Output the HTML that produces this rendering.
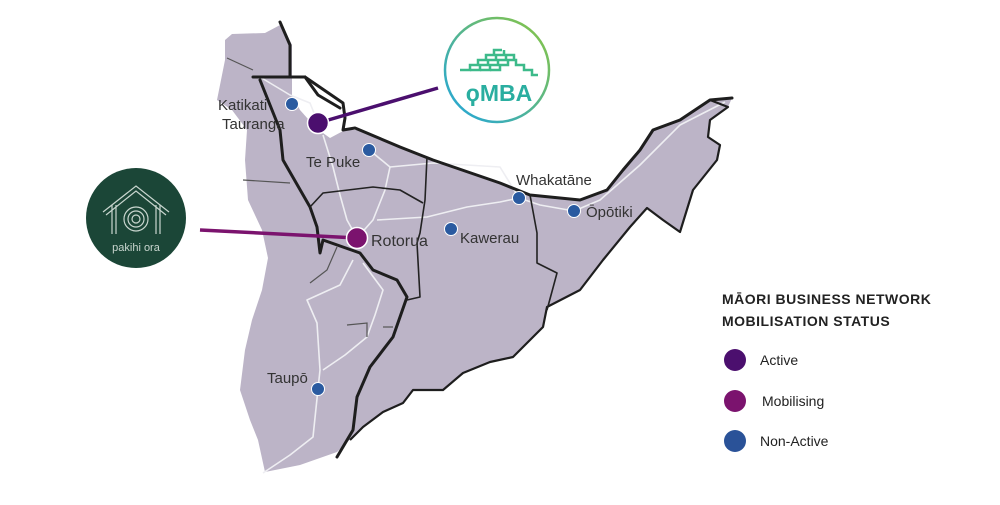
<!DOCTYPE html>
<html><head><meta charset="utf-8"><style>
body{margin:0;background:#fff;width:1000px;height:500px;overflow:hidden;font-family:"Liberation Sans",sans-serif}
</style></head><body>
<svg width="1000" height="500" viewBox="0 0 1000 500" xmlns="http://www.w3.org/2000/svg">
<path d="M225,40 L232,34 L265,33 L282,24 L292,45 L292,77 L300,78 L343,103 L345,130 L360,130 L400,147 L433,160 L500,183 L530,195 L580,200 L607,190 L623,170 L640,150 L653,130 L680,120 L710,100 L732,98 L728,107 L710,120 L708,137 L720,145 L717,160 L693,190 L680,232 L663,220 L647,208 L630,227 L603,260 L580,290 L547,307 L543,327 L530,340 L513,357 L490,362 L463,373 L443,390 L413,390 L403,403 L383,412 L363,427 L337,452 L300,465 L265,472 L258,440 L250,420 L240,390 L245,350 L252,320 L262,290 L268,258 L262,230 L248,200 L245,160 L247,130 L232,110 L217,100 L220,85 L225,60 Z" fill="#bcb4c7"/>
<!-- harbour -->
<path d="M292,77 L305,77 L325,90 L343,103 L345,130 L330,138 L316,128 L300,110 L292,95 Z" fill="#fff"/>
<g fill="none" stroke="#eeeef2" stroke-width="1.6" stroke-linejoin="round">
<path d="M260,77 L290,95 L310,103 L318,123"/>
<path d="M323,135 L333,167 L340,195 L347,220 L357,238"/>
<path d="M369,150 L373,153 L390,167 L433,163 L500,167 L519,198"/>
<path d="M390,167 L385,190 L373,220 L357,238"/>
<path d="M377,220 L427,217 L467,207 L500,202 L519,198 L540,205 L574,211"/>
<path d="M353,260 L340,285 L307,300 L317,323 L320,370 L318,389 L313,437 L290,455 L263,473"/>
<path d="M363,263 L383,290 L375,315 L367,337 L345,355 L323,370"/>
<path d="M574,211 L600,200 L640,165 L680,125 L725,102"/>
</g>
<g fill="none" stroke="#555" stroke-width="1.2">
<path d="M227,58 L253,70"/><path d="M243,180 L290,183"/>
<path d="M337,247 L327,270 L310,283"/><path d="M347,325 L367,323 L367,337"/><path d="M383,327 L393,327"/>
</g>
<g fill="none" stroke="#1e1e1e" stroke-width="3" stroke-linecap="round" stroke-linejoin="round">
<path d="M280,22 L290,45 L290,77"/>
<path d="M253,77 L292,77 L305,77 L343,103 L345,118 L343,130 L355,128 L400,147 L433,160 L500,183 L530,195 L580,200 L607,190 L623,170 L640,150 L653,130 L680,120 L710,100 L732,98"/>
<path d="M305,77 L318,95 L340,108"/>
<path d="M260,80 L280,130 L283,160 L310,207 L317,227 L320,253 L323,240 L360,253 L373,270 L397,280 L407,297 L393,337 L370,367 L357,397 L353,430 L337,457"/>
</g>
<path d="M710,100 L728,107 L710,120 L708,137 L720,145 L717,160 L693,190 L680,232 L663,220 L647,208 L630,227 L603,260 L580,290 L547,307 L543,327 L530,340 L513,357 L490,362 L463,373 L443,390 L413,390 L403,403 L383,412 L363,427 L350,440" fill="none" stroke="#1e1e1e" stroke-width="2.2" stroke-linejoin="round"/>
<g fill="none" stroke="#222" stroke-width="1.6" stroke-linejoin="round">
<path d="M310,207 L323,193 L373,187 L400,190 L423,203"/>
<path d="M427,157 L425,200 L420,233 L417,243 L420,297 L407,300"/>
<path d="M530,195 L537,233 L537,263 L557,273 L547,310"/>
</g>
<!-- connectors -->
<line x1="318" y1="123" x2="438" y2="88" stroke="#4b0f6e" stroke-width="3.5"/>
<line x1="200" y1="230" x2="357" y2="238" stroke="#7b136e" stroke-width="3.5"/>
<!-- dots -->
<g fill="#2a5aa0" stroke="#fff" stroke-width="1">
<circle cx="292" cy="104" r="6.5"/><circle cx="369" cy="150" r="6.5"/><circle cx="519" cy="198" r="6.5"/>
<circle cx="574" cy="211" r="6.5"/><circle cx="451" cy="229" r="6.5"/><circle cx="318" cy="389" r="6.5"/>
</g>
<circle cx="318" cy="123" r="10.5" fill="#4b0f6e" stroke="#fff" stroke-width="1.5"/>
<circle cx="357" cy="238" r="10.5" fill="#7b136e" stroke="#fff" stroke-width="1.5"/>
<g font-size="15" fill="#333">
<text x="218" y="110">Katikati</text><text x="222" y="129">Tauranga</text>
<text x="306" y="167">Te Puke</text><text x="516" y="185">Whakatāne</text>
<text x="586" y="217">Ōpōtiki</text><text x="460" y="243">Kawerau</text>
<text x="371" y="246" font-size="16">Rotorua</text><text x="267" y="383">Taupō</text>
</g>
<!-- MBA logo -->
<defs><linearGradient id="g" x1="0" y1="1" x2="1" y2="0"><stop offset="0" stop-color="#1fa5e0"/><stop offset="1" stop-color="#8cc63f"/></linearGradient></defs>
<circle cx="497" cy="70" r="52" fill="#fff" stroke="url(#g)" stroke-width="2.5"/>
<g fill="none" stroke="#3dba8a" stroke-width="2.5">
<path d="M460,70 h10 v-5 h8 v-5 h8 v-5 h8 v-5 h8"/>
<path d="M470,70 h10 v-5 h8 v-5 h8 v-5 h8 v-5"/>
<path d="M480,70 h10 v-5 h8 v-5 h8 v-5 h8 v5"/>
<path d="M490,70 h10 v-5 h8 v-5 h8 v5 h8 v5 h8 v5 h6"/>
</g>
<text x="499" y="101" text-anchor="middle" font-size="23" font-weight="bold" fill="#2aaea0">ϙMBA</text>
<!-- pakihi ora -->
<circle cx="136" cy="218" r="50" fill="#1b4637"/>
<g fill="none" stroke="#c9d6cf" stroke-width="1.2">
<path d="M103,212 L136,186 L169,212"/><path d="M106,215 L136,191 L166,215"/>
<path d="M112,205 V234 M116,205 V234 M156,205 V234 M160,205 V234"/>
<circle cx="136" cy="219" r="12"/><circle cx="136" cy="219" r="8"/><circle cx="136" cy="219" r="4"/>
</g>
<text x="136" y="251" text-anchor="middle" font-size="11" fill="#c9d6cf">pakihi ora</text>
<!-- legend -->
<g font-size="14" fill="#222">
<text x="722" y="304" font-weight="bold" letter-spacing="0.5">MĀORI BUSINESS NETWORK</text>
<text x="722" y="326" font-weight="bold" letter-spacing="0.5">MOBILISATION STATUS</text>
<circle cx="735" cy="360" r="11" fill="#4b0f6e"/><text x="760" y="365">Active</text>
<circle cx="735" cy="401" r="11" fill="#7b136e"/><text x="762" y="406">Mobilising</text>
<circle cx="735" cy="441" r="11" fill="#2a5298"/><text x="760" y="446">Non-Active</text>
</g>
</svg>
</body></html>
